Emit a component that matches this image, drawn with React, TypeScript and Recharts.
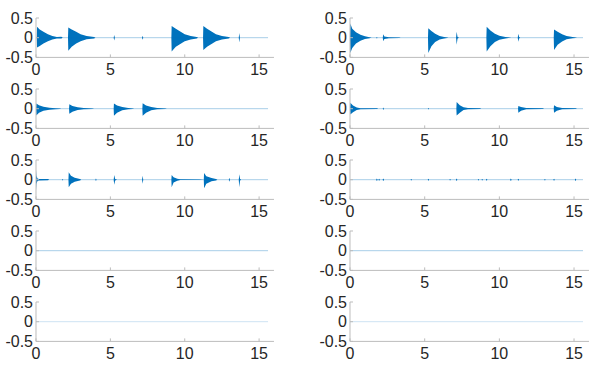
import { ComposedChart, Area, Line, XAxis, YAxis } from 'recharts';

// envelope points per panel: [time s, upper, lower?] (lower defaults to -upper)
type Pt = [number, number, number?];

const X_TICKS = [0, 5, 10, 15];
const Y_TICKS = [-0.5, 0, 0.5];

const P1: Pt[] = [
  [0, 0], [0.05, 0.01], [0.07, 0.28, -0.25], [0.25, 0.21], [0.5, 0.15], [0.8, 0.09], [1.1, 0.045],
  [1.4, 0.02], [1.7, 0.022], [1.8, 0], [2.15, 0], [2.17, 0.26, -0.33], [2.4, 0.21, -0.23], [2.7, 0.15],
  [3.0, 0.09], [3.4, 0.04], [3.9, 0.02], [4.0, 0], [5.22, 0], [5.26, 0.07], [5.3, 0], [7.13, 0],
  [7.17, 0.05], [7.21, 0], [9.1, 0], [9.12, 0.3, -0.35], [9.4, 0.23], [9.7, 0.16], [10.0, 0.09],
  [10.4, 0.045], [10.8, 0.02], [10.9, 0], [11.23, 0], [11.25, 0.3, -0.31], [11.5, 0.23], [11.8, 0.16],
  [12.1, 0.09], [12.5, 0.045], [12.95, 0.02], [13.05, 0], [13.63, 0], [13.67, 0.12], [13.71, 0], [15.6, 0],
];

const P2: Pt[] = [
  [0, 0.02], [0.02, 0.36, -0.39], [0.15, 0.23, -0.26], [0.4, 0.14, -0.15], [0.7, 0.075], [1.0, 0.035],
  [1.3, 0.012], [1.45, 0], [1.76, 0], [1.8, 0.02], [1.84, 0], [2.19, 0], [2.23, 0.09], [2.3, 0.03],
  [2.6, 0.012], [3.3, 0.008], [3.4, 0], [5.22, 0], [5.24, 0.24, -0.39], [5.45, 0.17, -0.22], [5.7, 0.1, -0.11],
  [6.0, 0.045], [6.3, 0.018], [6.6, 0], [7.1, 0], [7.14, 0.15, -0.18], [7.2, 0.02], [7.3, 0], [9.13, 0],
  [9.15, 0.28, -0.35], [9.4, 0.18, -0.22], [9.7, 0.1, -0.11], [10.0, 0.05], [10.4, 0.018], [10.8, 0],
  [11.23, 0], [11.27, 0.1], [11.32, 0.02], [11.4, 0], [13.64, 0], [13.66, 0.21, -0.31], [13.9, 0.15, -0.18],
  [14.2, 0.085, -0.095], [14.5, 0.04], [14.9, 0.015], [15.1, 0.008], [15.2, 0], [15.6, 0],
];

const P3: Pt[] = [
  [0, 0], [0.02, 0.13, -0.17], [0.2, 0.09, -0.1], [0.5, 0.05], [0.9, 0.025], [1.3, 0.012], [1.6, 0.008],
  [1.7, 0], [2.22, 0], [2.24, 0.11, -0.13], [2.45, 0.07, -0.08], [2.8, 0.035], [3.2, 0.015], [3.8, 0.008],
  [3.9, 0], [5.22, 0], [5.24, 0.13, -0.18], [5.45, 0.08, -0.1], [5.8, 0.04], [6.2, 0.015], [6.5, 0.008],
  [6.6, 0], [7.15, 0], [7.17, 0.14, -0.18], [7.4, 0.08, -0.1], [7.75, 0.04], [8.15, 0.015], [8.7, 0.008],
  [8.8, 0], [15.6, 0],
];

const P4: Pt[] = [
  [0, 0], [0.02, 0.15], [0.2, 0.08, -0.09], [0.45, 0.03], [0.7, 0.012], [1.8, 0.01], [1.9, 0],
  [2.19, 0], [2.23, 0.03], [2.27, 0], [5.21, 0], [5.25, 0.02], [5.29, 0], [7.12, 0], [7.14, 0.17],
  [7.35, 0.09, -0.1], [7.6, 0.035], [7.9, 0.015], [8.7, 0.01], [8.8, 0], [11.25, 0], [11.27, 0.07, -0.1],
  [11.45, 0.04, -0.05], [11.8, 0.015], [12.9, 0.01], [13.0, 0], [13.64, 0], [13.66, 0.085, -0.1],
  [13.85, 0.045, -0.05], [14.2, 0.015], [15.1, 0.01], [15.2, 0], [15.6, 0],
];

const P5: Pt[] = [
  [0, 0.25, -0.28], [0.03, 0.1], [0.1, 0.03], [0.2, 0.02], [0.8, 0.015], [0.9, 0], [1.75, 0],
  [1.79, 0.02], [1.83, 0], [2.18, 0], [2.2, 0.19], [2.35, 0.1], [2.6, 0.05], [2.95, 0.02], [3.05, 0],
  [3.99, 0], [4.03, 0.03], [4.07, 0], [5.22, 0], [5.26, 0.12, -0.13], [5.32, 0.02], [5.45, 0], [7.13, 0],
  [7.17, 0.1], [7.21, 0], [9.1, 0], [9.12, 0.12, -0.19], [9.25, 0.06, -0.07], [9.5, 0.025], [9.7, 0.01],
  [11.0, 0.006], [11.28, 0], [11.3, 0.17, -0.22], [11.45, 0.09, -0.1], [11.8, 0.04], [12.1, 0.02],
  [12.2, 0], [12.96, 0], [13.0, 0.05], [13.04, 0], [13.63, 0], [13.67, 0.14, -0.19], [13.72, 0.02],
  [13.8, 0], [15.6, 0],
];

const P6: Pt[] = [
  [0, 0], [1.75, 0], [1.8, 0.03], [1.85, 0], [1.9, 0], [1.95, 0.025], [2.0, 0], [2.18, 0], [2.23, 0.03],
  [2.28, 0], [4.05, 0], [4.1, 0.02], [4.15, 0], [5.2, 0], [5.25, 0.025], [5.3, 0], [6.65, 0], [6.7, 0.02],
  [6.75, 0], [7.09, 0], [7.14, 0.03], [7.19, 0], [8.55, 0], [8.6, 0.02], [8.65, 0], [8.8, 0], [8.85, 0.02],
  [8.9, 0], [9.1, 0], [9.15, 0.025], [9.2, 0], [10.72, 0], [10.77, 0.03], [10.82, 0], [11.22, 0],
  [11.27, 0.025], [11.32, 0], [13.0, 0], [13.05, 0.02], [13.1, 0], [13.61, 0], [13.66, 0.025], [13.71, 0],
  [15.05, 0], [15.1, 0.03], [15.15, 0], [15.6, 0],
];

const FLAT: Pt[] = [[0, 0], [15.6, 0]];

// row-major: left, right
const PANELS: Pt[][] = [P1, P2, P3, P4, P5, P6, FLAT, FLAT, FLAT, FLAT];

const BLUE = '#0072BD';
const BOX = '#bcbcbc';
const TXT = '#262626';
const FONT = '"Liberation Sans", Arial, sans-serif';

const PLOT_H = 39.4;
const ROW_TOP = 17.5;
const ROW_STEP = 71.2;
const TOP_PAD = 8;

function toRows(env: Pt[]) {
  return env.map(([t, hi, lo]) => ({ t, band: [lo ?? -hi, hi], zero: 0 }));
}

function Panel({ env, row, col }: { env: Pt[]; row: number; col: number }) {
  const plotW = col === 0 ? 238 : 239;
  const left = col === 0 ? 0 : 314;
  const top = ROW_TOP + row * ROW_STEP - TOP_PAD;
  const width = 36 + plotW + 1;
  const height = TOP_PAD + PLOT_H + 22;

  return (
    <div style={{ position: 'absolute', left, top }}>
      <ComposedChart
        width={width}
        height={height}
        data={toRows(env)}
        margin={{ top: TOP_PAD, right: 1, bottom: 0, left: 0 }}
      >
        <XAxis
          dataKey="t"
          type="number"
          domain={[0, 16]}
          ticks={X_TICKS}
          interval={0}
          height={22}
          stroke={BOX}
          tickSize={-3}
          tickMargin={9}
          tick={{ fill: TXT, fontSize: 16, fontFamily: FONT }}
        />
        <XAxis
          xAxisId="top"
          orientation="top"
          type="number"
          domain={[0, 16]}
          ticks={X_TICKS}
          height={0}
          stroke={BOX}
          tickSize={-3}
          tick={false}
        />
        <YAxis
          type="number"
          domain={[-0.5, 0.5]}
          ticks={Y_TICKS}
          interval={0}
          width={36}
          stroke={BOX}
          tickSize={-3}
          tickMargin={6}
          allowDataOverflow
          tick={{ fill: TXT, fontSize: 16, fontFamily: FONT }}
        />
        <YAxis
          yAxisId="right"
          orientation="right"
          type="number"
          domain={[-0.5, 0.5]}
          ticks={Y_TICKS}
          width={0}
          stroke={BOX}
          tickSize={-3}
          tick={false}
        />
        <Line
          dataKey="zero"
          stroke={BLUE}
          strokeOpacity={row < 4 ? 0.35 : 0.2}
          strokeWidth={1}
          dot={false}
          activeDot={false}
          isAnimationActive={false}
        />
        <Area
          dataKey="band"
          type="linear"
          stroke="none"
          fill={BLUE}
          fillOpacity={1}
          dot={false}
          activeDot={false}
          isAnimationActive={false}
        />
      </ComposedChart>
    </div>
  );
}

export default function App() {
  return (
    <div style={{ position: 'absolute', left: 0, top: 0, width: 598, height: 367, background: '#fff' }}>
      {PANELS.map((env, i) => (
        <Panel key={i} env={env} row={Math.floor(i / 2)} col={i % 2} />
      ))}
    </div>
  );
}
